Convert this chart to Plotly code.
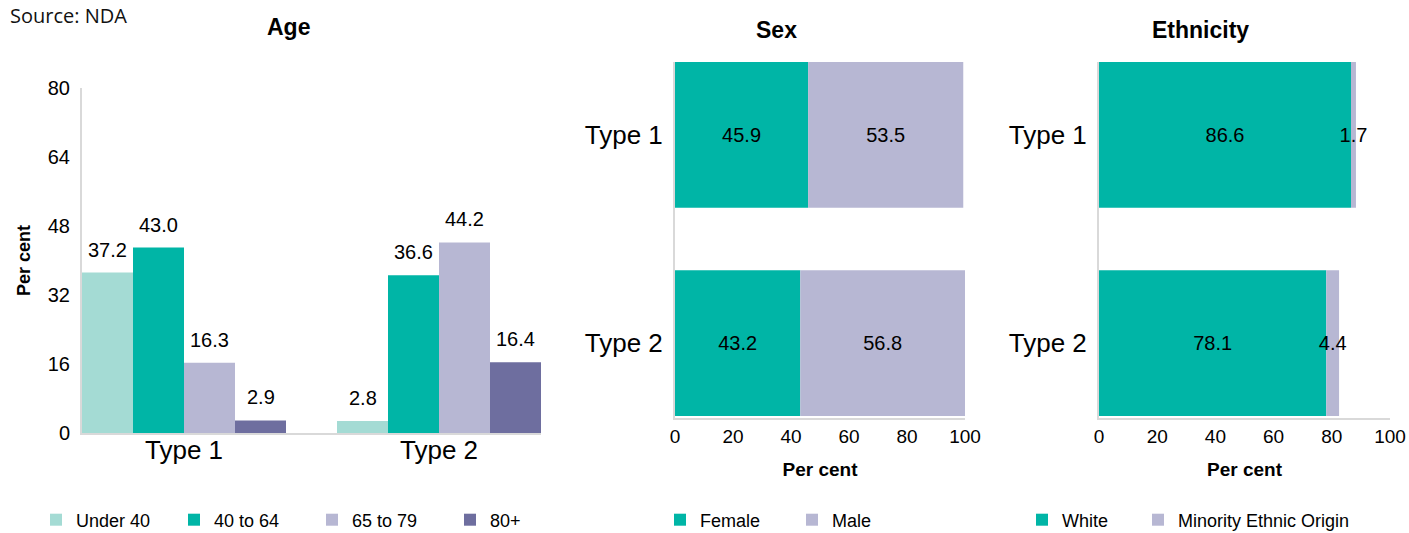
import plotly.graph_objects as go

# ---------------- data ----------------
types = ["Type 1", "Type 2"]

age_groups = ["Under 40", "40 to 64", "65 to 79", "80+"]
age_values = {
    "Under 40": [37.2, 2.8],
    "40 to 64": [43.0, 36.6],
    "65 to 79": [16.3, 44.2],
    "80+": [2.9, 16.4],
}

sex_groups = ["Female", "Male"]
sex_values = {
    "Female": [45.9, 43.2],
    "Male": [53.5, 56.8],
}

eth_groups = ["White", "Minority Ethnic Origin"]
eth_values = {
    "White": [86.6, 78.1],
    "Minority Ethnic Origin": [1.7, 4.4],
}

age_ticks = [0, 16, 32, 48, 64, 80]
pct_ticks = [0, 20, 40, 60, 80, 100]

# ---------------- layout helpers ----------------
W, H = 1409, 533


def px(x):
    """page pixel x -> paper fraction"""
    return x / W


def py(y):
    """page pixel y (from top) -> paper fraction"""
    return 1 - y / H


FONT = "Liberation Sans"
AXIS_GREY = "#D9D9D9"
age_colors = ["#A4DBD4", "#00B5A6", "#B7B7D3", "#6E6E9F"]
two_colors = ["#00B5A6", "#B7B7D3"]

age_xdom = [px(82), px(541)]
age_ydom = [py(433), py(88)]
age_xrange = [-0.4, 1.4]
BARGAP = 0.2

sex_xdom = [px(675), px(965)]
eth_xdom = [px(1099), px(1390)]
hb_ydom = [py(418), py(62)]
hb_yrange = [1.36, -0.35]
HB_WIDTH = 0.70

fig = go.Figure()

# Age grouped bars
for g, c in zip(age_groups, age_colors):
    fig.add_trace(go.Bar(
        x=types, y=age_values[g], name=g, marker_color=c,
        marker_line_width=0, xaxis="x", yaxis="y", legend="legend",
        offsetgroup=g,
    ))

# value labels above age bars (annotations anchored to data coordinates)
px_per_unit = (age_xdom[1] - age_xdom[0]) * W / (age_xrange[1] - age_xrange[0])
slot = (1 - BARGAP) / len(age_groups) * px_per_unit
annotations = []
for i, g in enumerate(age_groups):
    for t, v in zip(types, age_values[g]):
        annotations.append(dict(
            x=t, y=v, xref="x", yref="y", text=f"{v:.1f}", showarrow=False,
            xshift=(i - (len(age_groups) - 1) / 2) * slot, yshift=23,
            yanchor="middle", font=dict(family=FONT, size=20, color="#000"),
        ))


def stacked(groups, values, xa, ya, legends):
    base = [0.0] * len(types)
    for g, c, leg in zip(groups, two_colors, legends):
        vals = values[g]
        fig.add_trace(go.Bar(
            y=types, x=vals, base=list(base), orientation="h", name=g,
            marker_color=c, marker_line_width=0,
            xaxis=xa, yaxis=ya, legend=leg,
            offsetgroup="stack_" + xa, width=HB_WIDTH,
            text=[f"{v:.1f}" for v in vals], textposition="inside",
            insidetextanchor="middle", textangle=0, constraintext="none",
            textfont=dict(family=FONT, size=20, color="#000"),
            cliponaxis=False,
        ))
        base = [b + v for b, v in zip(base, vals)]


stacked(sex_groups, sex_values, "x2", "y2", ["legend2", "legend2"])
stacked(eth_groups, eth_values, "x3", "y3", ["legend3", "legend4"])

# titles and source
for txt, xc, yc in [("Age", 288, 27), ("Sex", 776, 30), ("Ethnicity", 1200, 30)]:
    annotations.append(dict(
        x=px(xc), y=py(yc), xref="paper", yref="paper", text=f"<b>{txt}</b>",
        showarrow=False, xanchor="center", yanchor="middle",
        font=dict(family=FONT, size=23, color="#000"),
    ))
annotations.append(dict(
    x=px(8), y=py(16), xref="paper", yref="paper", text="Source: NDA",
    showarrow=False, xanchor="left", yanchor="middle",
    font=dict(family="Open Sans", size=20, color="#111"),
))

axis_common = dict(showgrid=False, zeroline=False, showline=True,
                   linecolor=AXIS_GREY, linewidth=2, ticks="", automargin=False)

leg_common = dict(orientation="h", yanchor="middle", y=py(520),
                  xanchor="left", font=dict(family=FONT, size=18, color="#000"),
                  bgcolor="rgba(0,0,0,0)", borderwidth=0,
                  entrywidthmode="pixels", itemclick=False)

fig.update_layout(
    width=W, height=H,
    margin=dict(l=0, r=0, t=0, b=0, autoexpand=False),
    paper_bgcolor="white", plot_bgcolor="white",
    barmode="group", bargap=BARGAP, bargroupgap=0,
    font=dict(family=FONT, color="#000"),
    annotations=annotations,
    xaxis=dict(domain=age_xdom, anchor="y", type="category", range=age_xrange,
               tickfont=dict(size=26), ticklabelstandoff=-7, **axis_common),
    yaxis=dict(domain=age_ydom, anchor="x", range=[0, 80], tickvals=age_ticks,
               tickfont=dict(size=20), ticklabelstandoff=6,
               title=dict(text="<b>Per cent</b>", font=dict(size=18), standoff=12),
               **axis_common),
    xaxis2=dict(domain=sex_xdom, anchor="y2", range=[0, 100], tickvals=pct_ticks,
                tickfont=dict(size=19), ticklabelstandoff=0,
                title=dict(text="<b>Per cent</b>", font=dict(size=19), standoff=17),
                **axis_common),
    yaxis2=dict(domain=hb_ydom, anchor="x2", type="category", range=hb_yrange,
                tickfont=dict(size=26), ticklabelstandoff=5, **axis_common),
    xaxis3=dict(domain=eth_xdom, anchor="y3", range=[0, 100], tickvals=pct_ticks,
                tickfont=dict(size=19), ticklabelstandoff=0,
                title=dict(text="<b>Per cent</b>", font=dict(size=19), standoff=17),
                **axis_common),
    yaxis3=dict(domain=hb_ydom, anchor="x3", type="category", range=hb_yrange,
                tickfont=dict(size=26), ticklabelstandoff=5, **axis_common),
    legend=dict(x=px(36), entrywidth=93, **leg_common),
    legend2=dict(x=px(660), entrywidth=87, **leg_common),
    legend3=dict(x=px(1022), entrywidth=70, **leg_common),
    legend4=dict(x=px(1138), entrywidth=200, **leg_common),
    showlegend=True,
)

fig.write_html(
    "out.html",
    config={"displayModeBar": False},
    post_script="document.body.style.margin='0';document.body.style.overflow='hidden';",
)
